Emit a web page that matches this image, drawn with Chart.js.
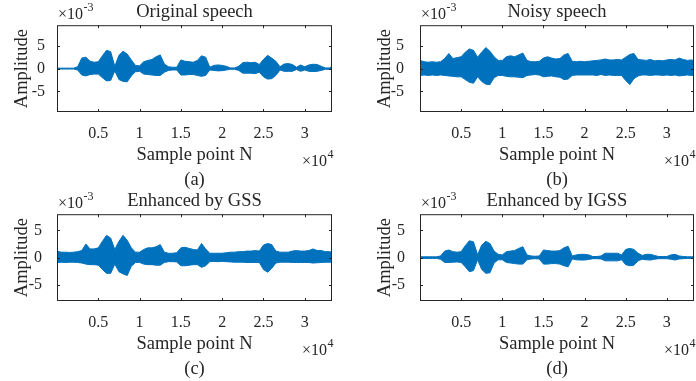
<!DOCTYPE html>
<html>
<head>
<meta charset="utf-8">
<script src="https://cdn.jsdelivr.net/npm/chart.js@4.4.1/dist/chart.umd.min.js"></script>
<style>
  body { margin: 0; background: #fff; }
  #wrap { position: relative; width: 696px; height: 381px; overflow: hidden; background: #fff; }
  #wrap canvas { position: absolute; }
</style>
</head>
<body>
<div id="wrap">
  <canvas id="c1" width="348" height="190"></canvas>
  <canvas id="c2" width="333" height="190"></canvas>
  <canvas id="c3" width="348" height="190"></canvas>
  <canvas id="c4" width="333" height="190"></canvas>
</div>
<script>
// sample index of each envelope point
const sampleN = [
  0, 500, 1000, 1500, 2000, 2500, 3000, 3500, 4000, 4500,
  5000, 5500, 6000, 6500, 7000, 7500, 8000, 8500, 9000, 9500,
  10000, 10500, 11000, 11500, 12000, 12500, 13000, 13500, 14000, 14500,
  15000, 15500, 16000, 16500, 17000, 17500, 18000, 18500, 19000, 19500,
  20000, 20500, 21000, 21500, 22000, 22500, 23000, 23500, 24000, 24500,
  25000, 25500, 26000, 26500, 27000, 27500, 28000, 28500, 29000, 29500,
  30000, 30500, 31000, 31500, 32000, 32500, 33000, 33300
];

// amplitude envelopes, x 10^-3 (max / min per 500 samples)
const origUpper = [
  0.1, 0.1, 0.1, 0.1, 0.1, 0.4, 2.3, 2.5, 1.6, 1.4,
  1.5, 2.8, 4.0, 3.7, 0.5, 2.9, 3.8, 3.2, 1.9, 0.7,
  0.6, 1.5, 1.8, 2.0, 2.6, 3.0, 1.0, 0.4, 0.3, 0.3,
  1.9, 1.6, 1.5, 1.4, 1.8, 2.8, 2.5, 0.3, 0.7, 0.8,
  0.7, 0.5, 0.15, 0.15, 0.5, 1.3, 1.4, 1.3, 1.4, 0.9,
  2.0, 2.9, 2.3, 1.6, 0.4, 1.0, 1.1, 0.9, 0.3, 0.8,
  0.4, 0.8, 0.95, 0.9, 0.5, 0.15, 0.15, 0.5
];
const origLower = [
  -0.1, -0.1, -0.1, -0.1, -0.1, -0.3, -1.4, -1.6, -1.3, -1.2,
  -1.2, -2.0, -2.7, -2.6, -0.5, -2.4, -2.8, -2.9, -1.6, -0.7,
  -0.6, -1.2, -1.3, -1.4, -1.5, -1.5, -0.8, -0.4, -0.3, -0.3,
  -1.4, -1.4, -1.3, -1.3, -1.5, -1.7, -1.5, -0.3, -0.4, -0.5,
  -0.45, -0.3, -0.15, -0.15, -0.4, -1.0, -1.0, -1.0, -1.1, -0.8,
  -1.8, -2.3, -2.2, -1.5, -0.3, -0.6, -0.6, -0.6, -0.2, -0.6,
  -0.3, -0.6, -0.65, -0.6, -0.4, -0.15, -0.15, -0.3
];
const noisyUpper = [
  1.8, 1.5, 1.4, 1.5, 1.4, 1.5, 2.2, 3.3, 2.2, 2.4,
  2.6, 3.6, 4.3, 4.0, 2.5, 3.6, 4.6, 3.8, 2.6, 1.8,
  1.8, 2.6, 2.8, 2.6, 3.0, 3.4, 1.8, 1.5, 1.5, 1.6,
  2.3, 2.6, 2.3, 2.1, 2.2, 3.0, 3.3, 1.6, 1.5, 1.6,
  1.5, 1.6, 1.7, 1.8, 1.9, 2.1, 1.9, 1.9, 2.0, 1.9,
  2.5, 3.1, 3.3, 2.0, 1.9, 1.8, 2.0, 1.7, 1.8, 1.7,
  1.9, 2.0, 1.9, 2.3, 2.0, 1.8, 1.9, 1.7
];
const noisyLower = [
  -1.5, -1.4, -1.5, -1.4, -1.5, -1.4, -1.5, -1.6, -1.7, -1.8,
  -1.8, -2.4, -3.0, -3.2, -1.8, -2.8, -3.4, -3.5, -2.0, -1.5,
  -1.5, -1.7, -1.8, -1.8, -1.9, -2.0, -1.5, -1.4, -1.3, -1.4,
  -1.8, -1.7, -1.6, -1.8, -1.9, -2.4, -2.3, -1.5, -1.4, -1.4,
  -1.4, -1.4, -1.4, -1.5, -1.3, -1.5, -1.4, -1.5, -1.5, -1.5,
  -2.6, -3.5, -2.2, -1.6, -1.4, -1.4, -1.5, -1.4, -1.4, -1.5,
  -1.4, -1.5, -1.4, -1.6, -1.5, -1.4, -1.5, -1.5
];
const gssUpper = [
  1.2, 1.0, 1.0, 0.95, 1.0, 1.1, 1.3, 2.5, 1.6, 1.6,
  1.8, 3.0, 4.1, 3.6, 1.5, 3.0, 4.1, 3.2, 1.8, 1.0,
  1.0, 1.5, 1.8, 1.8, 2.0, 2.4, 1.0, 0.8, 0.8, 0.9,
  1.8, 1.9, 1.7, 1.5, 1.4, 2.6, 1.6, 0.8, 0.8, 0.8,
  0.8, 0.9, 1.0, 1.0, 1.1, 1.1, 1.2, 1.2, 1.3, 1.2,
  2.3, 2.6, 2.4, 1.2, 1.0, 1.0, 1.0, 1.2, 1.3, 1.2,
  1.2, 1.3, 1.6, 1.3, 1.3, 1.1, 1.1, 1.0
];
const gssLower = [
  -0.9, -0.85, -0.9, -0.85, -0.85, -0.9, -1.0, -1.2, -1.3, -1.3,
  -1.4, -2.2, -2.9, -2.9, -1.2, -2.6, -3.0, -3.3, -1.6, -0.9,
  -0.9, -1.2, -1.3, -1.3, -1.4, -1.4, -0.9, -0.75, -0.75, -0.8,
  -1.5, -1.5, -1.4, -1.3, -1.3, -1.8, -1.5, -0.75, -0.7, -0.75,
  -0.7, -0.75, -0.8, -0.85, -0.85, -0.85, -0.9, -0.9, -0.9, -0.9,
  -2.2, -2.7, -2.0, -1.0, -0.85, -0.85, -0.85, -0.9, -0.9, -0.9,
  -0.9, -0.9, -1.0, -0.95, -0.9, -0.85, -0.85, -0.85
];
const igssUpper = [
  0.15, 0.15, 0.15, 0.15, 0.15, 0.3, 1.2, 1.4, 1.1, 1.0,
  1.1, 2.2, 3.1, 2.9, 0.5, 2.3, 3.0, 2.6, 1.2, 0.6,
  0.5, 1.1, 1.2, 1.3, 1.7, 2.0, 0.5, 0.3, 0.25, 0.3,
  1.4, 1.3, 1.2, 1.2, 1.3, 1.8, 2.1, 0.3, 0.5, 0.6,
  0.6, 0.5, 0.2, 0.2, 0.3, 0.8, 0.8, 0.8, 0.8, 0.5,
  1.5, 1.7, 1.5, 0.8, 0.4, 0.6, 0.6, 0.4, 0.2, 0.2,
  0.2, 0.5, 0.6, 0.3, 0.2, 0.15, 0.15, 0.15
];
const igssLower = [
  -0.15, -0.15, -0.15, -0.15, -0.15, -0.3, -0.9, -0.9, -0.85, -0.8,
  -0.9, -1.7, -2.6, -2.4, -0.4, -2.2, -2.9, -2.8, -1.0, -0.4,
  -0.4, -0.9, -1.0, -1.1, -1.2, -1.2, -0.4, -0.25, -0.2, -0.25,
  -1.2, -1.2, -1.1, -1.1, -1.2, -1.5, -1.7, -0.25, -0.4, -0.45,
  -0.45, -0.35, -0.2, -0.2, -0.25, -0.6, -0.6, -0.6, -0.6, -0.4,
  -1.3, -1.5, -1.4, -0.6, -0.3, -0.4, -0.45, -0.3, -0.2, -0.2,
  -0.2, -0.3, -0.45, -0.25, -0.2, -0.15, -0.15, -0.15
];

const xTicks = [5000, 10000, 15000, 20000, 25000, 30000];
const yTicks = [-5, 0, 5];
const titles = ['Original speech', 'Noisy speech', 'Enhanced by GSS', 'Enhanced by IGSS'];
const captions = ['(a)', '(b)', '(c)', '(d)'];

const serif = '"Liberation Serif", "Times New Roman", serif';
const blue = '#0072BD';
const ink = '#262626';

Chart.defaults.font.family = serif;
Chart.defaults.color = ink;

const panels = [
  { id: 'c1', left: 0,   top: 0,   right: 332, upper: origUpper,  lower: origLower,  yLim: 9.5, tickPad: 4 },
  { id: 'c2', left: 363, top: 0,   right: 694, upper: noisyUpper, lower: noisyLower, yLim: 9.5, tickPad: 8 },
  { id: 'c3', left: 0,   top: 189, right: 332, upper: gssUpper,   lower: gssLower,   yLim: 8,   tickPad: 7 },
  { id: 'c4', left: 363, top: 189, right: 694, upper: igssUpper,  lower: igssLower,  yLim: 8,   tickPad: 7 }
];

function drawPower(ctx, x, y, base, exp, alignRight) {
  ctx.font = '16px ' + serif;
  const wb = ctx.measureText(base).width;
  ctx.font = '12px ' + serif;
  const we = ctx.measureText(exp).width;
  const x0 = alignRight ? x - wb - we : x;
  ctx.textAlign = 'left';
  ctx.textBaseline = 'middle';
  ctx.font = '16px ' + serif;
  ctx.fillText(base, x0, y);
  ctx.font = '12px ' + serif;
  ctx.fillText(exp, x0 + wb + 0.5, y - 7.5);
}

// matlab style box, inward ticks, exponents and caption
const matlabAxes = {
  id: 'matlabAxes',
  afterDraw(chart, args, opts) {
    const { ctx, chartArea: a, scales: { x, y } } = chart;
    ctx.save();
    ctx.strokeStyle = ink;
    ctx.lineWidth = 1;
    ctx.strokeRect(a.left + 0.5, a.top + 0.5, a.right - a.left - 1, a.bottom - a.top - 1);
    ctx.beginPath();
    xTicks.forEach(v => {
      const px = Math.round(x.getPixelForValue(v)) + 0.5;
      ctx.moveTo(px, a.bottom); ctx.lineTo(px, a.bottom - 3);
      ctx.moveTo(px, a.top); ctx.lineTo(px, a.top + 3);
    });
    yTicks.forEach(v => {
      const py = Math.round(y.getPixelForValue(v)) + 0.5;
      ctx.moveTo(a.left, py); ctx.lineTo(a.left + 3, py);
      ctx.moveTo(a.right, py); ctx.lineTo(a.right - 3, py);
    });
    ctx.stroke();

    ctx.fillStyle = ink;
    drawPower(ctx, a.left + 1, a.top - 10, '\u00d710', '-3', false);
    drawPower(ctx, a.right + 1, a.bottom + 50, '\u00d710', '4', true);

    ctx.font = '18.5px ' + serif;
    ctx.textAlign = 'center';
    ctx.textBaseline = 'middle';
    ctx.fillText(opts.caption, (a.left + a.right) / 2, a.bottom + 68);
    ctx.restore();
  }
};

panels.forEach((p, i) => {
  const canvas = document.getElementById(p.id);
  canvas.style.left = p.left + 'px';
  canvas.style.top = p.top + 'px';
  const w = canvas.width;

  new Chart(canvas.getContext('2d'), {
    type: 'line',
    data: {
      datasets: [
        {
          label: 'max',
          data: sampleN.map((n, k) => ({ x: n, y: p.upper[k] })),
          borderColor: blue,
          backgroundColor: blue,
          borderWidth: 1,
          pointRadius: 0,
          tension: 0,
          fill: '+1'
        },
        {
          label: 'min',
          data: sampleN.map((n, k) => ({ x: n, y: p.lower[k] })),
          borderColor: blue,
          backgroundColor: blue,
          borderWidth: 1,
          pointRadius: 0,
          tension: 0,
          fill: false
        }
      ]
    },
    options: {
      responsive: false,
      animation: false,
      devicePixelRatio: 1,
      layout: { padding: { left: 0, right: w - (p.right - p.left), top: 0, bottom: 24 } },
      plugins: {
        legend: { display: false },
        tooltip: { enabled: false },
        title: {
          display: true,
          text: titles[i],
          fullSize: false,
          color: ink,
          font: { size: 18.5, weight: 'normal', family: serif },
          padding: { top: 1, bottom: 2 }
        },
        matlabAxes: { caption: captions[i] }
      },
      scales: {
        x: {
          type: 'linear',
          min: 0,
          max: 33300,
          grid: { display: false },
          border: { display: false },
          afterBuildTicks: s => { s.ticks = xTicks.map(v => ({ value: v })); },
          afterFit: s => { s.height = 54; s.paddingLeft = 0; s.paddingRight = 0; },
          ticks: {
            autoSkip: false,
            maxRotation: 0,
            padding: 4,
            font: { size: 16 },
            callback: v => v / 10000
          },
          title: {
            display: true,
            text: 'Sample point N',
            font: { size: 18.5 },
            padding: { top: 0, bottom: 0 }
          }
        },
        y: {
          min: -p.yLim,
          max: p.yLim,
          grid: { display: false },
          border: { display: false },
          afterBuildTicks: s => { s.ticks = yTicks.map(v => ({ value: v })); },
          afterFit: s => { s.width = 57; s.paddingTop = 0; s.paddingBottom = 0; },
          ticks: {
            autoSkip: false,
            padding: p.tickPad,
            font: { size: 16 }
          },
          title: {
            display: true,
            text: 'Amplitude',
            font: { size: 18.5 },
            padding: { top: 11, bottom: 0 }
          }
        }
      }
    },
    plugins: [matlabAxes]
  });
});
</script>
</body>
</html>
